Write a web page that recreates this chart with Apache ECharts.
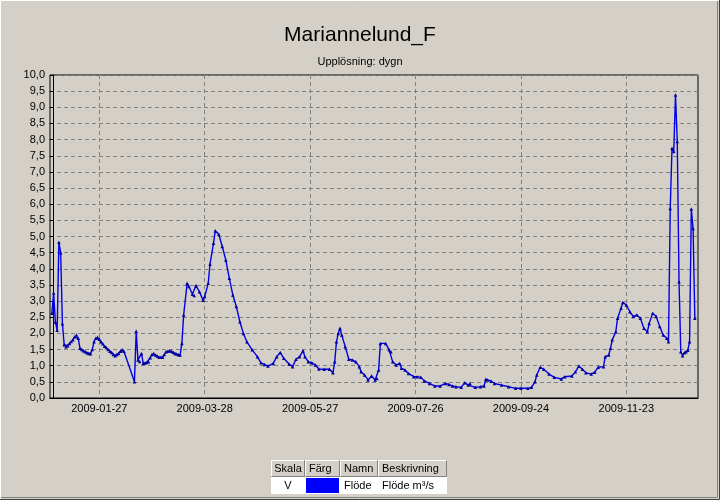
<!DOCTYPE html>
<html><head><meta charset="utf-8">
<script src="https://cdn.jsdelivr.net/npm/echarts@6/dist/echarts.min.js"></script>
<style>html,body{margin:0;padding:0;background:#d4d0c8;overflow:hidden}#c{width:720px;height:500px}</style>
</head><body><div id="c"></div>
<script>
// Day offsets from 2009-01-01 and daily flow (m³/s)
const dayOffsets = [-1,0,1,2,3,4,5,6,7,8,9,10,11,12,13,14,15,16,17,18,19,20,21,22,23,24,25,26,27,28,29,30,31,32,33,34,35,36,37,38,39,40,
  46,47,48,49,50,51,52,53,54,55,56,57,58,59,60,61,62,63,64,65,66,67,68,69,70,71,72,73,74,76,77,79,80,81,83,85,86,88,89,91,92,94,96,98,
  100,102,104,106,108,110,113,116,118,120,122,125,127,129,131,134,136,138,140,142,143,145,147,149,151,154,157,159,160,161,162,163,164,
  166,168,170,172,174,175,177,179,181,183,184,185,186,189,191,192,193,195,197,198,200,202,205,207,209,211,214,217,220,223,225,227,229,
  232,234,236,237,240,243,245,246,247,249,251,255,259,263,266,270,272,274,275,277,279,282,285,289,291,295,297,299,301,303,306,308,310,
  313,314,316,317,318,320,321,323,324,326,328,330,332,334,336,338,339,341,343,345,347,349,350,351,352,353,354,355,356,357,358,359,360,
  361,362,363,364,365];
const flowValues = [2.62,3.25,2.35,2.1,4.82,4.5,2.3,1.65,1.59,1.62,1.69,1.75,1.8,1.9,1.95,1.85,1.54,1.5,1.46,1.43,1.4,1.38,1.37,1.5,1.74,1.85,1.88,1.82,1.74,1.68,1.6,1.56,1.5,1.45,1.41,1.35,1.31,1.35,1.38,1.45,1.49,1.45,
  0.5,2.07,1.18,1.13,1.38,1.07,1.08,1.1,1.12,1.25,1.35,1.38,1.33,1.3,1.26,1.26,1.26,1.35,1.43,1.45,1.46,1.45,1.42,1.38,1.36,1.34,1.33,1.69,2.57,3.55,3.45,3.21,3.17,3.48,3.29,3.03,3.14,3.55,4.14,4.79,5.18,5.07,4.69,4.27,
  3.71,3.19,2.83,2.36,2.0,1.74,1.49,1.28,1.09,1.04,0.99,1.07,1.28,1.41,1.23,1.05,0.97,1.2,1.28,1.46,1.28,1.12,1.09,1.02,0.9,0.89,0.89,0.78,1.12,1.74,2.0,2.16,1.95,
  1.59,1.2,1.18,1.12,0.97,0.81,0.71,0.56,0.68,0.56,0.6,0.87,1.69,1.69,1.49,1.43,1.12,1.02,1.07,0.92,0.87,0.76,0.66,0.66,0.64,0.53,0.45,0.37,0.37,0.45,0.42,0.37,0.35,
  0.33,0.47,0.40,0.45,0.33,0.35,0.37,0.58,0.56,0.52,0.45,0.40,0.35,0.3,0.3,0.3,0.33,0.5,0.71,0.95,0.89,0.74,0.64,0.59,0.66,0.68,0.81,0.99,0.89,0.78,0.74,0.8,0.95,
  0.97,1.28,1.33,1.54,1.8,2.05,2.47,2.78,2.96,2.88,2.67,2.52,2.57,2.47,2.16,2.05,2.31,2.62,2.52,2.21,1.95,1.85,1.74,5.87,7.73,7.63,9.38,7.94,3.6,1.43,1.31,1.4,1.43,
  1.48,1.74,5.85,5.25,2.47];
const tickDays = [26, 86, 146, 206, 266, 326];
const legendHeaders = ['Skala', 'Färg', 'Namn', 'Beskrivning'];
const legendRow = ['V', '', 'Flöde', 'Flöde m³/s'];

const FONT = '"Liberation Sans", Arial, sans-serif';
function dayLabel(d) {
  const t = new Date(Date.UTC(2009, 0, 1 + Math.round(d)));
  return t.toISOString().slice(0, 10);
}

// legend table graphics
const colX = [271, 305, 340, 378, 447];
const hy = 460, rh = 17;
const g = [];
g.push({type:'rect', shape:{x:colX[0], y:hy+rh, width:colX[4]-colX[0], height:rh}, style:{fill:'#ffffff'}});
for (let i = 0; i < 4; i++) {
  const x0 = colX[i], x1 = colX[i+1];
  g.push({type:'rect', shape:{x:x0, y:hy, width:x1-x0, height:rh}, style:{fill:'#d4d0c8'}});
  g.push({type:'polyline', shape:{points:[[x0+0.5, hy+rh-0.5],[x0+0.5, hy+0.5],[x1-0.5, hy+0.5]]}, style:{stroke:'#ffffff', lineWidth:1, fill:null}});
  g.push({type:'polyline', shape:{points:[[x0+0.5, hy+rh-0.5],[x1-0.5, hy+rh-0.5],[x1-0.5, hy+0.5]]}, style:{stroke:'#808080', lineWidth:1, fill:null}});
  const center = i === 0;
  g.push({type:'text', x: center ? (x0+x1)/2 : x0+4, y: hy+rh/2+0.5,
    style:{text: legendHeaders[i], fill:'#000', font:'11px ' + FONT, align: center?'center':'left', verticalAlign:'middle'}});
  if (legendRow[i]) {
    g.push({type:'text', x: center ? (x0+x1)/2 : x0+4, y: hy+rh*1.5+0.5,
      style:{text: legendRow[i], fill:'#000', font:'11px ' + FONT, align: center?'center':'left', verticalAlign:'middle'}});
  }
}
g.push({type:'rect', shape:{x:colX[1]+1, y:hy+rh+1, width:colX[2]-colX[1]-2, height:rh-2}, style:{fill:'#0000ff'}});
// window frame
g.push({type:'polyline', shape:{points:[[0.5,499],[0.5,0.5],[719,0.5]]}, style:{stroke:'#ffffff', lineWidth:1, fill:null}});
g.push({type:'polyline', shape:{points:[[1,497.5],[717.5,497.5],[717.5,1]]}, style:{stroke:'#808080', lineWidth:1, fill:null}});
g.push({type:'polyline', shape:{points:[[0,499.5],[719.5,499.5],[719.5,0]]}, style:{stroke:'#404040', lineWidth:1, fill:null}});

const chart = echarts.init(document.getElementById('c'), null, {renderer:'canvas'});
chart.setOption({
  animation: false,
  backgroundColor: '#d4d0c8',
  textStyle: {fontFamily: FONT},
  title: [
    {text: 'Mariannelund_F', left: 'center', top: 25, padding: 0,
     textStyle: {fontSize: 21, fontWeight: 'normal', color: '#000', fontFamily: FONT}},
    {text: 'Upplösning: dygn', left: 'center', top: 56, padding: 0,
     textStyle: {fontSize: 11, fontWeight: 'normal', color: '#000', fontFamily: FONT}}
  ],
  grid: {left: 50, top: 75, width: 648, height: 323, show: true, borderColor: '#000', borderWidth: 1, backgroundColor: 'transparent', containLabel: false},
  xAxis: {
    type: 'value', min: -2.07, max: 366.8,
    axisLine: {show: true, lineStyle: {color: '#000', width: 1}},
    axisTick: {show: false, customValues: tickDays},
    axisLabel: {customValues: tickDays, formatter: v => dayLabel(v), color: '#000', fontSize: 11, margin: 5, fontFamily: FONT},
    splitLine: {show: true, lineStyle: {color: '#808080', type: [4, 3], width: 1}}
  },
  yAxis: {
    type: 'value', min: 0, max: 10, interval: 0.5,
    axisLine: {show: true, lineStyle: {color: '#000', width: 1}},
    axisTick: {show: true, inside: false, length: 4, lineStyle: {color: '#000'}},
    axisLabel: {formatter: v => v.toFixed(1).replace('.', ','), color: '#000', fontSize: 11, margin: 5, fontFamily: FONT},
    splitLine: {show: true, lineStyle: {color: '#808080', type: [4, 3], width: 1}}
  },
  series: [{
    type: 'line',
    data: dayOffsets.map((d, i) => [d, flowValues[i]]),
    symbol: 'triangle', symbolSize: 3.5, showSymbol: true, showAllSymbol: true,
    lineStyle: {color: '#0000e6', width: 1.4},
    itemStyle: {color: '#00009a'},
    z: 3
  }],
  graphic: g
});
</script></body></html>
